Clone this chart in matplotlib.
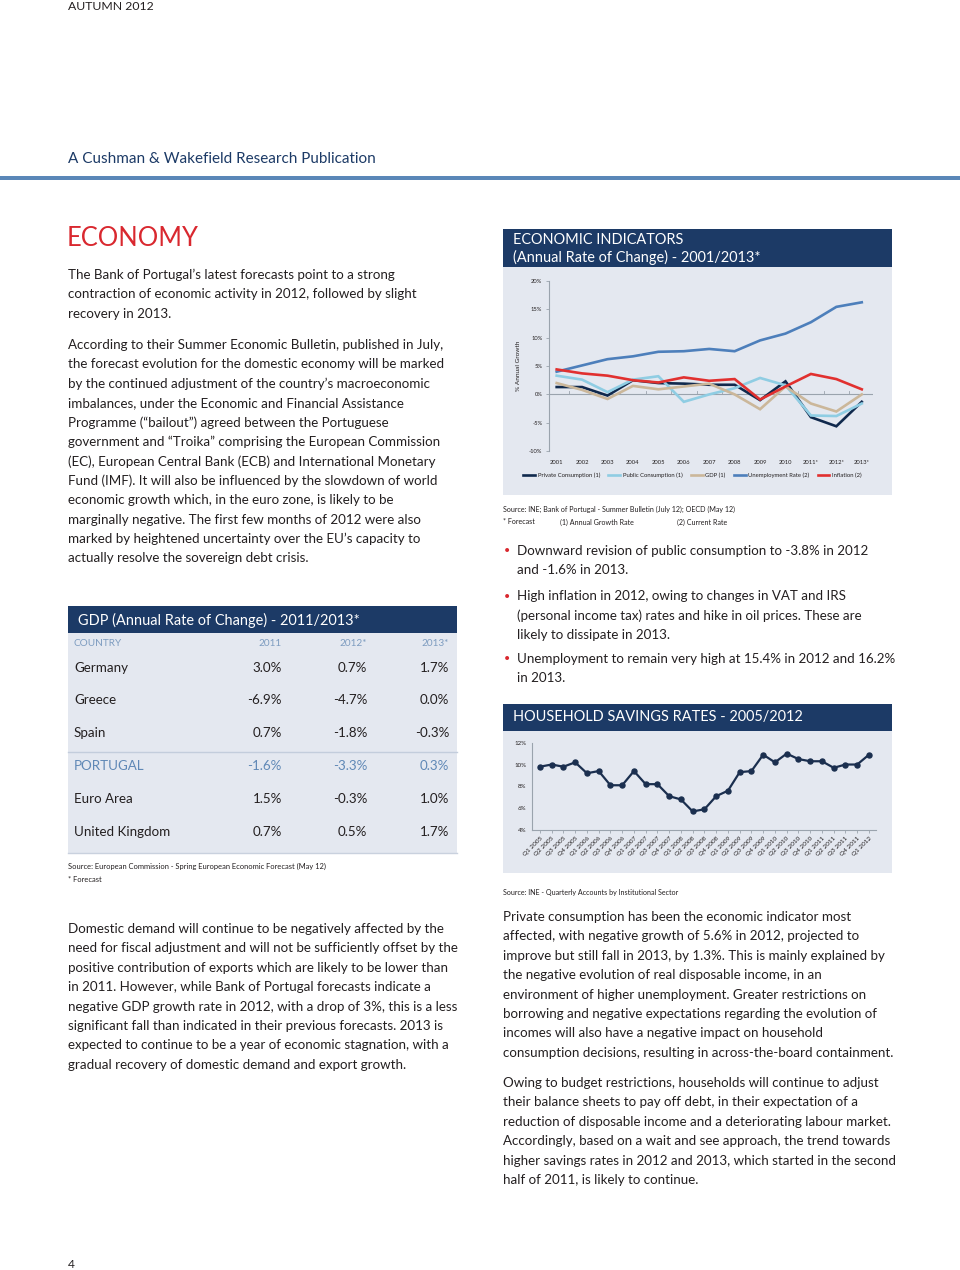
import matplotlib
matplotlib.use("Agg")
import matplotlib.pyplot as plt
from matplotlib.patches import Rectangle
import numpy as np

# ---------------- data ----------------
years = ["2001", "2002", "2003", "2004", "2005", "2006", "2007", "2008", "2009", "2010", "2011*", "2012*", "2013*"]
private_consumption = [1.3, 1.3, -0.2, 2.5, 2.0, 1.9, 1.7, 1.7, -1.0, 2.3, -4.0, -5.6, -1.3]
public_consumption = [3.3, 2.6, 0.4, 2.6, 3.2, -1.3, 0.0, 1.1, 2.9, 1.6, -3.7, -3.8, -1.6]
gdp = [2.0, 0.8, -0.8, 1.5, 0.9, 1.4, 1.9, 0.0, -2.6, 1.4, -1.6, -3.0, 0.0]
unemployment = [4.0, 5.1, 6.2, 6.7, 7.5, 7.6, 8.0, 7.6, 9.5, 10.7, 12.7, 15.4, 16.2]
inflation = [4.4, 3.7, 3.3, 2.5, 2.1, 3.0, 2.4, 2.7, -0.9, 1.4, 3.6, 2.7, 0.9]
econ_yticks = [-10, -5, 0, 5, 10, 15, 20]

quarters = ["Q1 2005", "Q2 2005", "Q3 2005", "Q4 2005", "Q1 2006", "Q2 2006", "Q3 2006", "Q4 2006",
            "Q1 2007", "Q2 2007", "Q3 2007", "Q4 2007", "Q1 2008", "Q2 2008", "Q3 2008", "Q4 2008",
            "Q1 2009", "Q2 2009", "Q3 2009", "Q4 2009", "Q1 2010", "Q2 2010", "Q3 2010", "Q4 2010",
            "Q1 2011", "Q2 2011", "Q3 2011", "Q4 2011", "Q1 2012"]
savings_rate = [9.8, 10.0, 9.8, 10.2, 9.2, 9.4, 8.1, 8.1, 9.4, 8.2, 8.2, 7.1, 6.8, 5.7, 5.9, 7.1,
                7.6, 9.3, 9.4, 10.9, 10.2, 11.0, 10.5, 10.3, 10.3, 9.7, 10.0, 10.0, 10.9]
savings_yticks = [4, 6, 8, 10, 12]

table_countries = ["Germany", "Greece", "Spain", "PORTUGAL", "Euro Area", "United Kingdom"]
table_years = ["2011", "2012*", "2013*"]
gdp_2011 = [3.0, -6.9, 0.7, -1.6, 1.5, 0.7]
gdp_2012 = [0.7, -4.7, -1.8, -3.3, -0.3, 0.5]
gdp_2013 = [1.7, 0.0, -0.3, 0.3, 1.0, 1.7]

# ---------------- style ----------------
W, H = 960, 1270
NAVY = "#1c3a66"
PANEL = "#e4e8f0"
TXT = "#231f20"
FONT = "Lato"
plt.rcParams["font.family"] = [FONT, "DejaVu Sans"]

fig = plt.figure(figsize=(W / 100, H / 100), dpi=100)
bg = fig.add_axes([0, 0, 1, 1])
bg.set_xlim(0, W)
bg.set_ylim(H, 0)
bg.axis("off")


def px(v):
    return v * 0.72  # pixels -> points at 100 dpi


def px_axes(x0, y0, x1, y1):
    return fig.add_axes([x0 / W, 1 - y1 / H, (x1 - x0) / W, (y1 - y0) / H])


# measure body font size so a reference line spans the right width
renderer = fig.canvas.get_renderer()
probe = bg.text(0, 0, "According to their Summer Economic Bulletin, published in July,", fontsize=10)
wpx = probe.get_window_extent(renderer).width
probe.remove()
BODY = 10 * 374.0 / wpx


def para(x, y0, lines, step=19.4, size=None, color=TXT):
    size = size or BODY
    for i, l in enumerate(lines):
        bg.text(x, y0 + i * step, l, fontsize=size, color=color, va="center", ha="left")


# header
bg.text(68, 7, "AUTUMN 2012", fontsize=px(12.2), color=TXT, va="center")
bg.text(68, 159, "A Cushman & Wakefield Research Publication", fontsize=px(15.2), color=NAVY, va="center")
bg.add_patch(Rectangle((0, 175.5), W, 4.5, color="#5a87b8", lw=0))
bg.text(67, 238, "ECONOMY", fontsize=px(25.5), color="#d9282f", va="center")

para(68, 275, ["The Bank of Portugal\u2019s latest forecasts point to a strong",
               "contraction of economic activity in 2012, followed by slight",
               "recovery in 2013."], step=19.5)
para(68, 345, ["According to their Summer Economic Bulletin, published in July,",
               "the forecast evolution for the domestic economy will be marked",
               "by the continued adjustment of the country\u2019s macroeconomic",
               "imbalances, under the Economic and Financial Assistance",
               "Programme (\u201cbailout\u201d) agreed between the Portuguese",
               "government and \u201cTroika\u201d comprising the European Commission",
               "(EC), European Central Bank (ECB) and International Monetary",
               "Fund (IMF). It will also be influenced by the slowdown of world",
               "economic growth which, in the euro zone, is likely to be",
               "marginally negative. The first few months of 2012 were also",
               "marked by heightened uncertainty over the EU\u2019s capacity to",
               "actually resolve the sovereign debt crisis."])
para(68, 929, ["Domestic demand will continue to be negatively affected by the",
               "need for fiscal adjustment and will not be sufficiently offset by the",
               "positive contribution of exports which are likely to be lower than",
               "in 2011. However, while Bank of Portugal forecasts indicate a",
               "negative GDP growth rate in 2012, with a drop of 3%, this is a less",
               "significant fall than indicated in their previous forecasts. 2013 is",
               "expected to continue to be a year of economic stagnation, with a",
               "gradual recovery of domestic demand and export growth."])
bg.text(68, 1265, "4", fontsize=px(12), color=TXT, va="center")

# right column bullets
bullets = [(551, ["Downward revision of public consumption to -3.8% in 2012", "and -1.6% in 2013."]),
           (596, ["High inflation in 2012, owing to changes in VAT and IRS",
                  "(personal income tax) rates and hike in oil prices. These are",
                  "likely to dissipate in 2013."]),
           (659, ["Unemployment to remain very high at 15.4% in 2012 and 16.2%", "in 2013."])]
for y0, lines in bullets:
    bg.text(504, y0, "\u2022", fontsize=BODY * 0.8, color="#d9282f", va="center")
    para(517, y0, lines)

para(503, 917, ["Private consumption has been the economic indicator most",
                "affected, with negative growth of 5.6% in 2012, projected to",
                "improve but still fall in 2013, by 1.3%. This is mainly explained by",
                "the negative evolution of real disposable income, in an",
                "environment of higher unemployment. Greater restrictions on",
                "borrowing and negative expectations regarding the evolution of",
                "incomes will also have a negative impact on household",
                "consumption decisions, resulting in across-the-board containment."])
para(503, 1083, ["Owing to budget restrictions, households will continue to adjust",
                 "their balance sheets to pay off debt, in their expectation of a",
                 "reduction of disposable income and a deteriorating labour market.",
                 "Accordingly, based on a wait and see approach, the trend towards",
                 "higher savings rates in 2012 and 2013, which started in the second",
                 "half of 2011, is likely to continue."])

# ---------------- GDP table ----------------
bg.add_patch(Rectangle((68, 606), 389, 27, color=NAVY, lw=0))
bg.add_patch(Rectangle((68, 633), 389, 220, color=PANEL, lw=0))
bg.plot([68, 457], [751.5, 751.5], color="#c3cddc", lw=1)
bg.plot([68, 457], [853, 853], color="#c9d1de", lw=1)
bg.text(78, 620, "GDP (Annual Rate of Change) - 2011/2013*", fontsize=px(14.5), color="white", va="center")
HDR = "#7d9cc0"
bg.text(74, 643, "COUNTRY", fontsize=px(10), color=HDR, va="center")
col_x = [282, 367, 449]
for cx, yl in zip(col_x, table_years):
    bg.text(cx, 643, yl, fontsize=px(10), color=HDR, va="center", ha="right")
row_y = [668, 700.5, 733, 766, 799, 832]
for i, c in enumerate(table_countries):
    col = "#5f88b6" if c == "PORTUGAL" else TXT
    bg.text(74, row_y[i], c, fontsize=BODY, color=col, va="center")
    for cx, vals in zip(col_x, [gdp_2011, gdp_2012, gdp_2013]):
        bg.text(cx, row_y[i], f"{vals[i]:.1f}%", fontsize=BODY, color=col, va="center", ha="right")
bg.text(68, 866, "Source: European Commission - Spring European Economic Forecast (May 12)",
        fontsize=px(7.5), color=TXT, va="center")
bg.text(68, 880, "* Forecast", fontsize=px(7.5), color=TXT, va="center")

# ---------------- Economic indicators chart ----------------
bg.add_patch(Rectangle((503, 229), 389, 38, color=NAVY, lw=0))
bg.add_patch(Rectangle((503, 267), 389, 228, color=PANEL, lw=0))
bg.text(513, 240, "ECONOMIC INDICATORS", fontsize=px(14.5), color="white", va="center")
bg.text(513, 257, "(Annual Rate of Change) - 2001/2013*", fontsize=px(14.5), color="white", va="center")

ax = px_axes(549.3, 280.7, 872.7, 451.3)
ax.set_facecolor("none")
x = np.arange(len(years))
ax.set_xlim(-0.29, len(years) - 1 + 0.43)
ax.set_ylim(-10, 20)
series = [(private_consumption, "#10294d", "Private Consumption (1)"),
          (public_consumption, "#8fcde3", "Public Consumption (1)"),
          (gdp, "#cbb79a", "GDP (1)"),
          (unemployment, "#4d7fbb", "Unemployment Rate (2)"),
          (inflation, "#e1302f", "Inflation (2)")]
ax.axhline(0, color="#9aa3ad", lw=0.8, zorder=1)
for xb in x[:-1] + 0.5:
    ax.plot([xb, xb], [0, 0.6], color="#9aa3ad", lw=0.6, zorder=1)
for vals, col, lab in series:
    ax.plot(x, vals, color=col, lw=1.9, label=lab, zorder=3, solid_joinstyle="miter")
for s in ["top", "right", "bottom"]:
    ax.spines[s].set_visible(False)
ax.spines["left"].set_color("#9aa3ad")
ax.spines["left"].set_linewidth(0.8)
ax.set_yticks(econ_yticks)
ax.set_yticklabels([f"{v}%" for v in econ_yticks], fontsize=px(5.8), color=TXT)
ax.tick_params(axis="y", length=2, width=0.6, color="#9aa3ad", pad=3)
ax.set_xticks(x)
ax.set_xticklabels(years, fontsize=px(5.9), color=TXT)
ax.tick_params(axis="x", length=0, pad=6)
ax.set_ylabel("% Annual Growth", fontsize=px(6.5), color=TXT, labelpad=6)
leg = ax.legend(loc="upper left", bbox_to_anchor=(-0.088, -0.112), ncol=5, frameon=False,
                fontsize=px(5.9), handlelength=2.0, handletextpad=0.45, columnspacing=1.4,
                borderaxespad=0)
for t in leg.get_texts():
    t.set_color(TXT)
for h in leg.get_lines():
    h.set_linewidth(1.9)

bg.text(503, 509, "Source: INE; Bank of Portugal - Summer Bulletin (July 12); OECD (May 12)",
        fontsize=px(7.2), color=TXT, va="center")
bg.text(503, 522, "* Forecast", fontsize=px(7.2), color=TXT, va="center")
bg.text(560, 522, "(1) Annual Growth Rate", fontsize=px(7.2), color=TXT, va="center")
bg.text(677, 522, "(2) Current Rate", fontsize=px(7.2), color=TXT, va="center")

# ---------------- Household savings chart ----------------
bg.add_patch(Rectangle((503, 704), 389, 27, color=NAVY, lw=0))
bg.add_patch(Rectangle((503, 731), 389, 142, color=PANEL, lw=0))
bg.text(513, 717, "HOUSEHOLD SAVINGS RATES - 2005/2012", fontsize=px(14.5), color="white", va="center")

ax2 = px_axes(531.7, 742.7, 876, 830)
ax2.set_facecolor("none")
q = np.arange(len(quarters))
ax2.set_xlim(-0.7, len(quarters) - 1 + 0.6)
ax2.set_ylim(4, 12)
ax2.plot(q, savings_rate, color="#1b2f4f", lw=1.6, marker="o", ms=3.6, zorder=3)
for s in ["top", "right"]:
    ax2.spines[s].set_visible(False)
for s in ["left", "bottom"]:
    ax2.spines[s].set_color("#9aa3ad")
    ax2.spines[s].set_linewidth(0.8)
ax2.set_yticks(savings_yticks)
ax2.set_yticklabels([f"{v}%" for v in savings_yticks], fontsize=px(6.2), color=TXT)
ax2.tick_params(axis="y", length=0, pad=4)
ax2.set_xticks(q)
ax2.set_xticklabels(quarters, fontsize=px(6.4), color=TXT, rotation=45, ha="right",
                    rotation_mode="anchor")
ax2.tick_params(axis="x", length=2, width=0.6, color="#9aa3ad", pad=2)

bg.text(503, 893, "Source: INE - Quarterly Accounts by Institutional Sector",
        fontsize=px(7.2), color=TXT, va="center")

fig.savefig("out.png", dpi=100)
